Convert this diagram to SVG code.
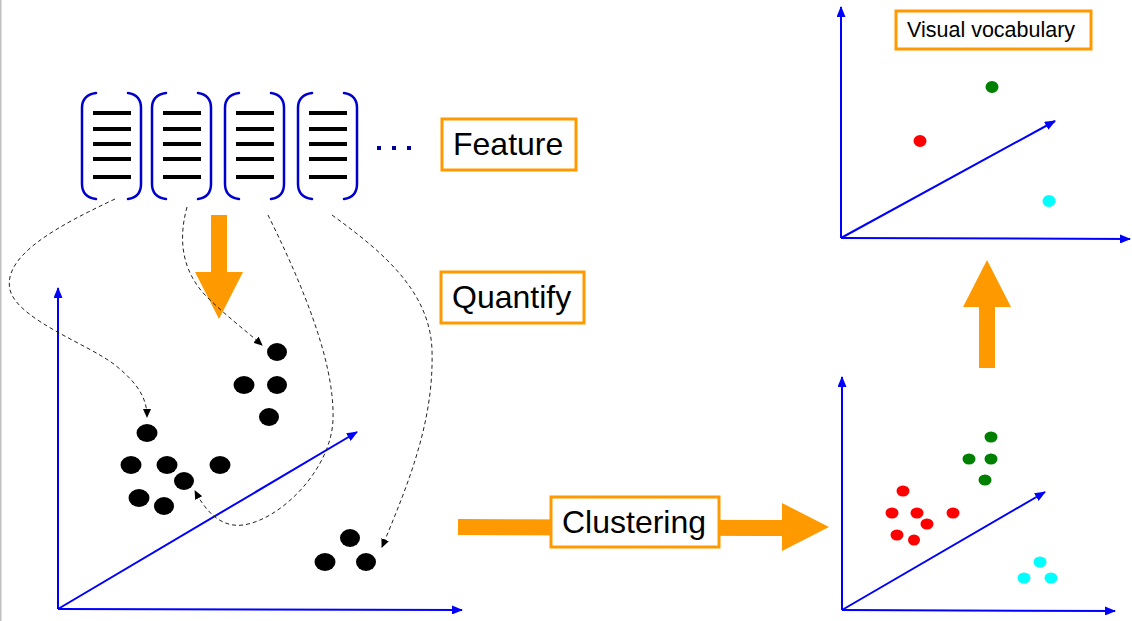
<svg xmlns="http://www.w3.org/2000/svg" width="1132" height="621" viewBox="0 0 1132 621">
<style>
.axis{stroke:#0000FF;stroke-width:2;fill:none}
.br{stroke:#0000CC;stroke-width:2.5;fill:none;stroke-linecap:round}
.fl{stroke:#000;stroke-width:4}
.dash{stroke:#222;stroke-width:1;fill:none;stroke-dasharray:4 3}
.box{fill:#fff;stroke:#FF9900;stroke-width:3}
.lbl{font-family:"Liberation Sans",Arial,sans-serif;fill:#000}
.big{fill:#FF9900}
</style>
<defs>
<marker id="ax" markerUnits="userSpaceOnUse" markerWidth="11" markerHeight="9" refX="10" refY="4.5" orient="auto">
<path d="M0,0 L11,4.5 L0,9 z" fill="#0000FF"/>
</marker>
<marker id="da" markerUnits="userSpaceOnUse" markerWidth="9" markerHeight="8" refX="8" refY="4" orient="auto">
<path d="M0,0 L9,4 L0,8 z" fill="#000"/>
</marker>
<g id="vec">
<path class="br" d="M96,93 Q82,95 82,108 L82,184 Q82,197 96,199"/>
<path class="br" d="M128,93 Q141,95 141,108 L141,184 Q141,197 128,199"/>
<line class="fl" x1="93" y1="113" x2="131" y2="113"/>
<line class="fl" x1="93" y1="129" x2="131" y2="129"/>
<line class="fl" x1="93" y1="144" x2="131" y2="144"/>
<line class="fl" x1="93" y1="159" x2="131" y2="159"/>
<line class="fl" x1="93" y1="177" x2="131" y2="177"/>
</g>
</defs>
<rect x="0" y="0" width="1132" height="621" fill="#fff"/>
<rect x="0" y="0" width="1.5" height="621" fill="#C0C0C0"/>

<g id="features">
<use href="#vec"/>
<use href="#vec" x="70"/>
<use href="#vec" x="143"/>
<use href="#vec" x="216"/>
<rect x="377" y="146" width="4" height="4" fill="#000099"/>
<rect x="392" y="146" width="4" height="4" fill="#000099"/>
<rect x="407" y="146" width="4" height="4" fill="#000099"/>
</g>

<g id="label-feature">
<rect class="box" x="442" y="119" width="134" height="51"/>
<text class="lbl" x="453" y="155" font-size="32">Feature</text>
</g>
<g id="label-quantify">
<rect class="box" x="441" y="272" width="143" height="51"/>
<text class="lbl" x="452" y="308" font-size="32">Quantify</text>
</g>

<g id="quantify-arrow">
<polygon class="big" points="211,215 227,215 227,272 243,272 219,319 195,272 211,272"/>
</g>

<g id="plot-left">
<line class="axis" x1="58" y1="609" x2="58" y2="288" marker-end="url(#ax)"/>
<line class="axis" x1="58" y1="609" x2="462" y2="610" marker-end="url(#ax)"/>
<line class="axis" x1="58" y1="609" x2="357" y2="432" marker-end="url(#ax)"/>
<g fill="#000">
<ellipse cx="277" cy="352" rx="10" ry="9"/>
<ellipse cx="244" cy="385" rx="10.5" ry="9"/>
<ellipse cx="277" cy="385" rx="10" ry="9"/>
<ellipse cx="269" cy="417" rx="10" ry="9"/>
<ellipse cx="147" cy="433" rx="10.5" ry="9"/>
<ellipse cx="131" cy="465" rx="10.5" ry="9"/>
<ellipse cx="167" cy="465" rx="10.5" ry="9"/>
<ellipse cx="220" cy="465" rx="10.5" ry="9"/>
<ellipse cx="184" cy="481" rx="10" ry="9"/>
<ellipse cx="139" cy="498" rx="10.5" ry="9"/>
<ellipse cx="164" cy="506" rx="10" ry="9"/>
<ellipse cx="350" cy="538" rx="10" ry="9"/>
<ellipse cx="325" cy="562" rx="10.5" ry="9"/>
<ellipse cx="366" cy="562" rx="10" ry="9"/>
</g>
</g>

<g id="connectors">
<path class="dash" d="M115,199 C60,225 2,255 10,290 C18,320 90,345 115,365 C140,385 147,400 147,417" marker-end="url(#da)"/>
<path class="dash" d="M187,207 C178,240 182,270 205,295 C225,315 245,330 262,345" marker-end="url(#da)"/>
<path class="dash" d="M268,215 C300,280 335,360 333,420 C331,470 280,520 243,525 C220,528 205,510 195,491" marker-end="url(#da)"/>
<path class="dash" d="M332,215 C380,250 430,290 432,350 C434,420 410,480 382,547" marker-end="url(#da)"/>
</g>

<g id="clustering">
<polygon class="big" points="458,519 782,520 782,503 829,527 782,551 782,536 458,535"/>
<rect class="box" x="551" y="497" width="168" height="50"/>
<text class="lbl" x="562" y="533" font-size="32">Clustering</text>
</g>

<g id="plot-clusters">
<line class="axis" x1="842" y1="610" x2="842" y2="377" marker-end="url(#ax)"/>
<line class="axis" x1="842" y1="610" x2="1115" y2="611" marker-end="url(#ax)"/>
<line class="axis" x1="842" y1="610" x2="1045" y2="492" marker-end="url(#ax)"/>
<g fill="#008000">
<ellipse cx="991" cy="437" rx="6.5" ry="5.5"/>
<ellipse cx="969" cy="459" rx="6.5" ry="5.5"/>
<ellipse cx="991" cy="459" rx="6.5" ry="5.5"/>
<ellipse cx="985" cy="480" rx="6.5" ry="5.5"/>
</g>
<g fill="#FF0000">
<ellipse cx="903" cy="491" rx="6.5" ry="5.5"/>
<ellipse cx="892" cy="513" rx="6.5" ry="5.5"/>
<ellipse cx="917" cy="513" rx="6.5" ry="5.5"/>
<ellipse cx="953" cy="513" rx="6.5" ry="5.5"/>
<ellipse cx="927" cy="524" rx="6.5" ry="5.5"/>
<ellipse cx="897" cy="535" rx="6.5" ry="5.5"/>
<ellipse cx="914" cy="540" rx="6" ry="5.5"/>
</g>
<g fill="#00FFFF">
<ellipse cx="1040" cy="562" rx="6.5" ry="5.5"/>
<ellipse cx="1024" cy="578" rx="6.5" ry="5.5"/>
<ellipse cx="1051" cy="578" rx="6.5" ry="5.5"/>
</g>
</g>

<g id="up-arrow">
<polygon class="big" points="979,368 995,368 995,307 1011,307 987,260 963,307 979,307"/>
</g>

<g id="plot-vocabulary">
<line class="axis" x1="841" y1="238" x2="841" y2="7" marker-end="url(#ax)"/>
<line class="axis" x1="841" y1="238" x2="1130" y2="239" marker-end="url(#ax)"/>
<line class="axis" x1="841" y1="238" x2="1055" y2="121" marker-end="url(#ax)"/>
<ellipse cx="992" cy="87" rx="6.5" ry="6" fill="#008000"/>
<ellipse cx="920" cy="141" rx="6.5" ry="6" fill="#FF0000"/>
<ellipse cx="1049" cy="201" rx="6.5" ry="6" fill="#00FFFF"/>
<rect class="box" x="896" y="11" width="195" height="38"/>
<text class="lbl" x="907" y="37" font-size="21.5">Visual vocabulary</text>
</g>
</svg>
